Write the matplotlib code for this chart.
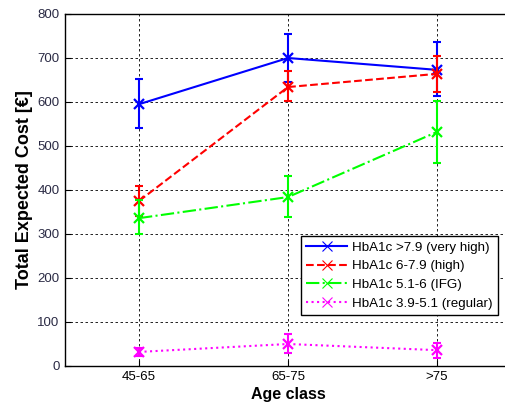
import numpy as np
import matplotlib.pyplot as plt

plt.rcParams['font.family'] = ['Liberation Sans', 'DejaVu Sans']

age_classes = ['45-65', '65-75', '>75']
x = np.arange(1, 4)

# mean cost and lower / upper error bar ends per HbA1c group
very_high = [595, 700, 673]
very_high_lo = [541, 645, 614]
very_high_hi = [652, 755, 736]

high = [375, 634, 664]
high_lo = [341, 602, 622]
high_hi = [409, 670, 705]

ifg = [336, 384, 532]
ifg_lo = [300, 339, 461]
ifg_hi = [377, 432, 602]

regular = [32, 50, 36]
regular_lo = [23, 29, 19]
regular_hi = [41, 72, 53]

labels = ['HbA1c >7.9 (very high)', 'HbA1c 6-7.9 (high)',
          'HbA1c 5.1-6 (IFG)', 'HbA1c 3.9-5.1 (regular)']

fig = plt.figure(figsize=(5.05, 4.05), dpi=100)
ax = fig.add_axes([64.5 / 505, 39 / 405, 447 / 505, 352 / 405])

series = [
    (very_high, very_high_lo, very_high_hi, '#0000ff', '-'),
    (high, high_lo, high_hi, '#ff0000', '--'),
    (ifg, ifg_lo, ifg_hi, '#00ff00', '-.'),
    (regular, regular_lo, regular_hi, '#ff00ff', ':'),
]
handles = []
for (y, lo, hi, c, ls), lab in zip(series, labels):
    y = np.array(y)
    err = [y - np.array(lo), np.array(hi) - y]
    ax.errorbar(x, y, yerr=err, color=c, ls='none', capsize=3,
                elinewidth=1.5, capthick=1.5)
    ax.plot(x, y, color=c, ls=ls, lw=1.5, marker='x', ms=7, mew=1.6)
    h, = ax.plot([], [], color=c, ls=ls, lw=1.5, marker='x', ms=7, mew=0.8,
                 label=lab)
    handles.append(h)

ax.set_xlim(0.5, 3.5)
ax.set_ylim(0, 800)
ax.set_xticks(x)
ax.set_xticklabels(age_classes)
ax.set_yticks(range(0, 801, 100))
ax.tick_params(direction='in', labelsize=9.5, length=4, colors='black')
ax.tick_params(axis='y', labelcolor='#2a2a44')
ax.grid(True, color='black', ls=(0, (3, 3)), lw=0.6)
ax.set_axisbelow(True)
for s in ax.spines.values():
    s.set_linewidth(1.0)

ax.set_xlabel('Age class', fontsize=11.5, fontweight='bold', labelpad=3)
ax.set_ylabel('Total Expected Cost [€]', fontsize=13, fontweight='bold', labelpad=3)

leg = ax.legend(handles=handles, loc='upper left',
                bbox_to_anchor=(236 / 447, 130 / 352), fontsize=9.6,
                handlelength=3.1, fancybox=False, framealpha=1, borderpad=0.4,
                labelspacing=0.48, handletextpad=0.4, borderaxespad=0)
leg.get_frame().set_edgecolor('black')
leg.get_frame().set_linewidth(1.0)

fig.savefig('out.png', dpi=100)
